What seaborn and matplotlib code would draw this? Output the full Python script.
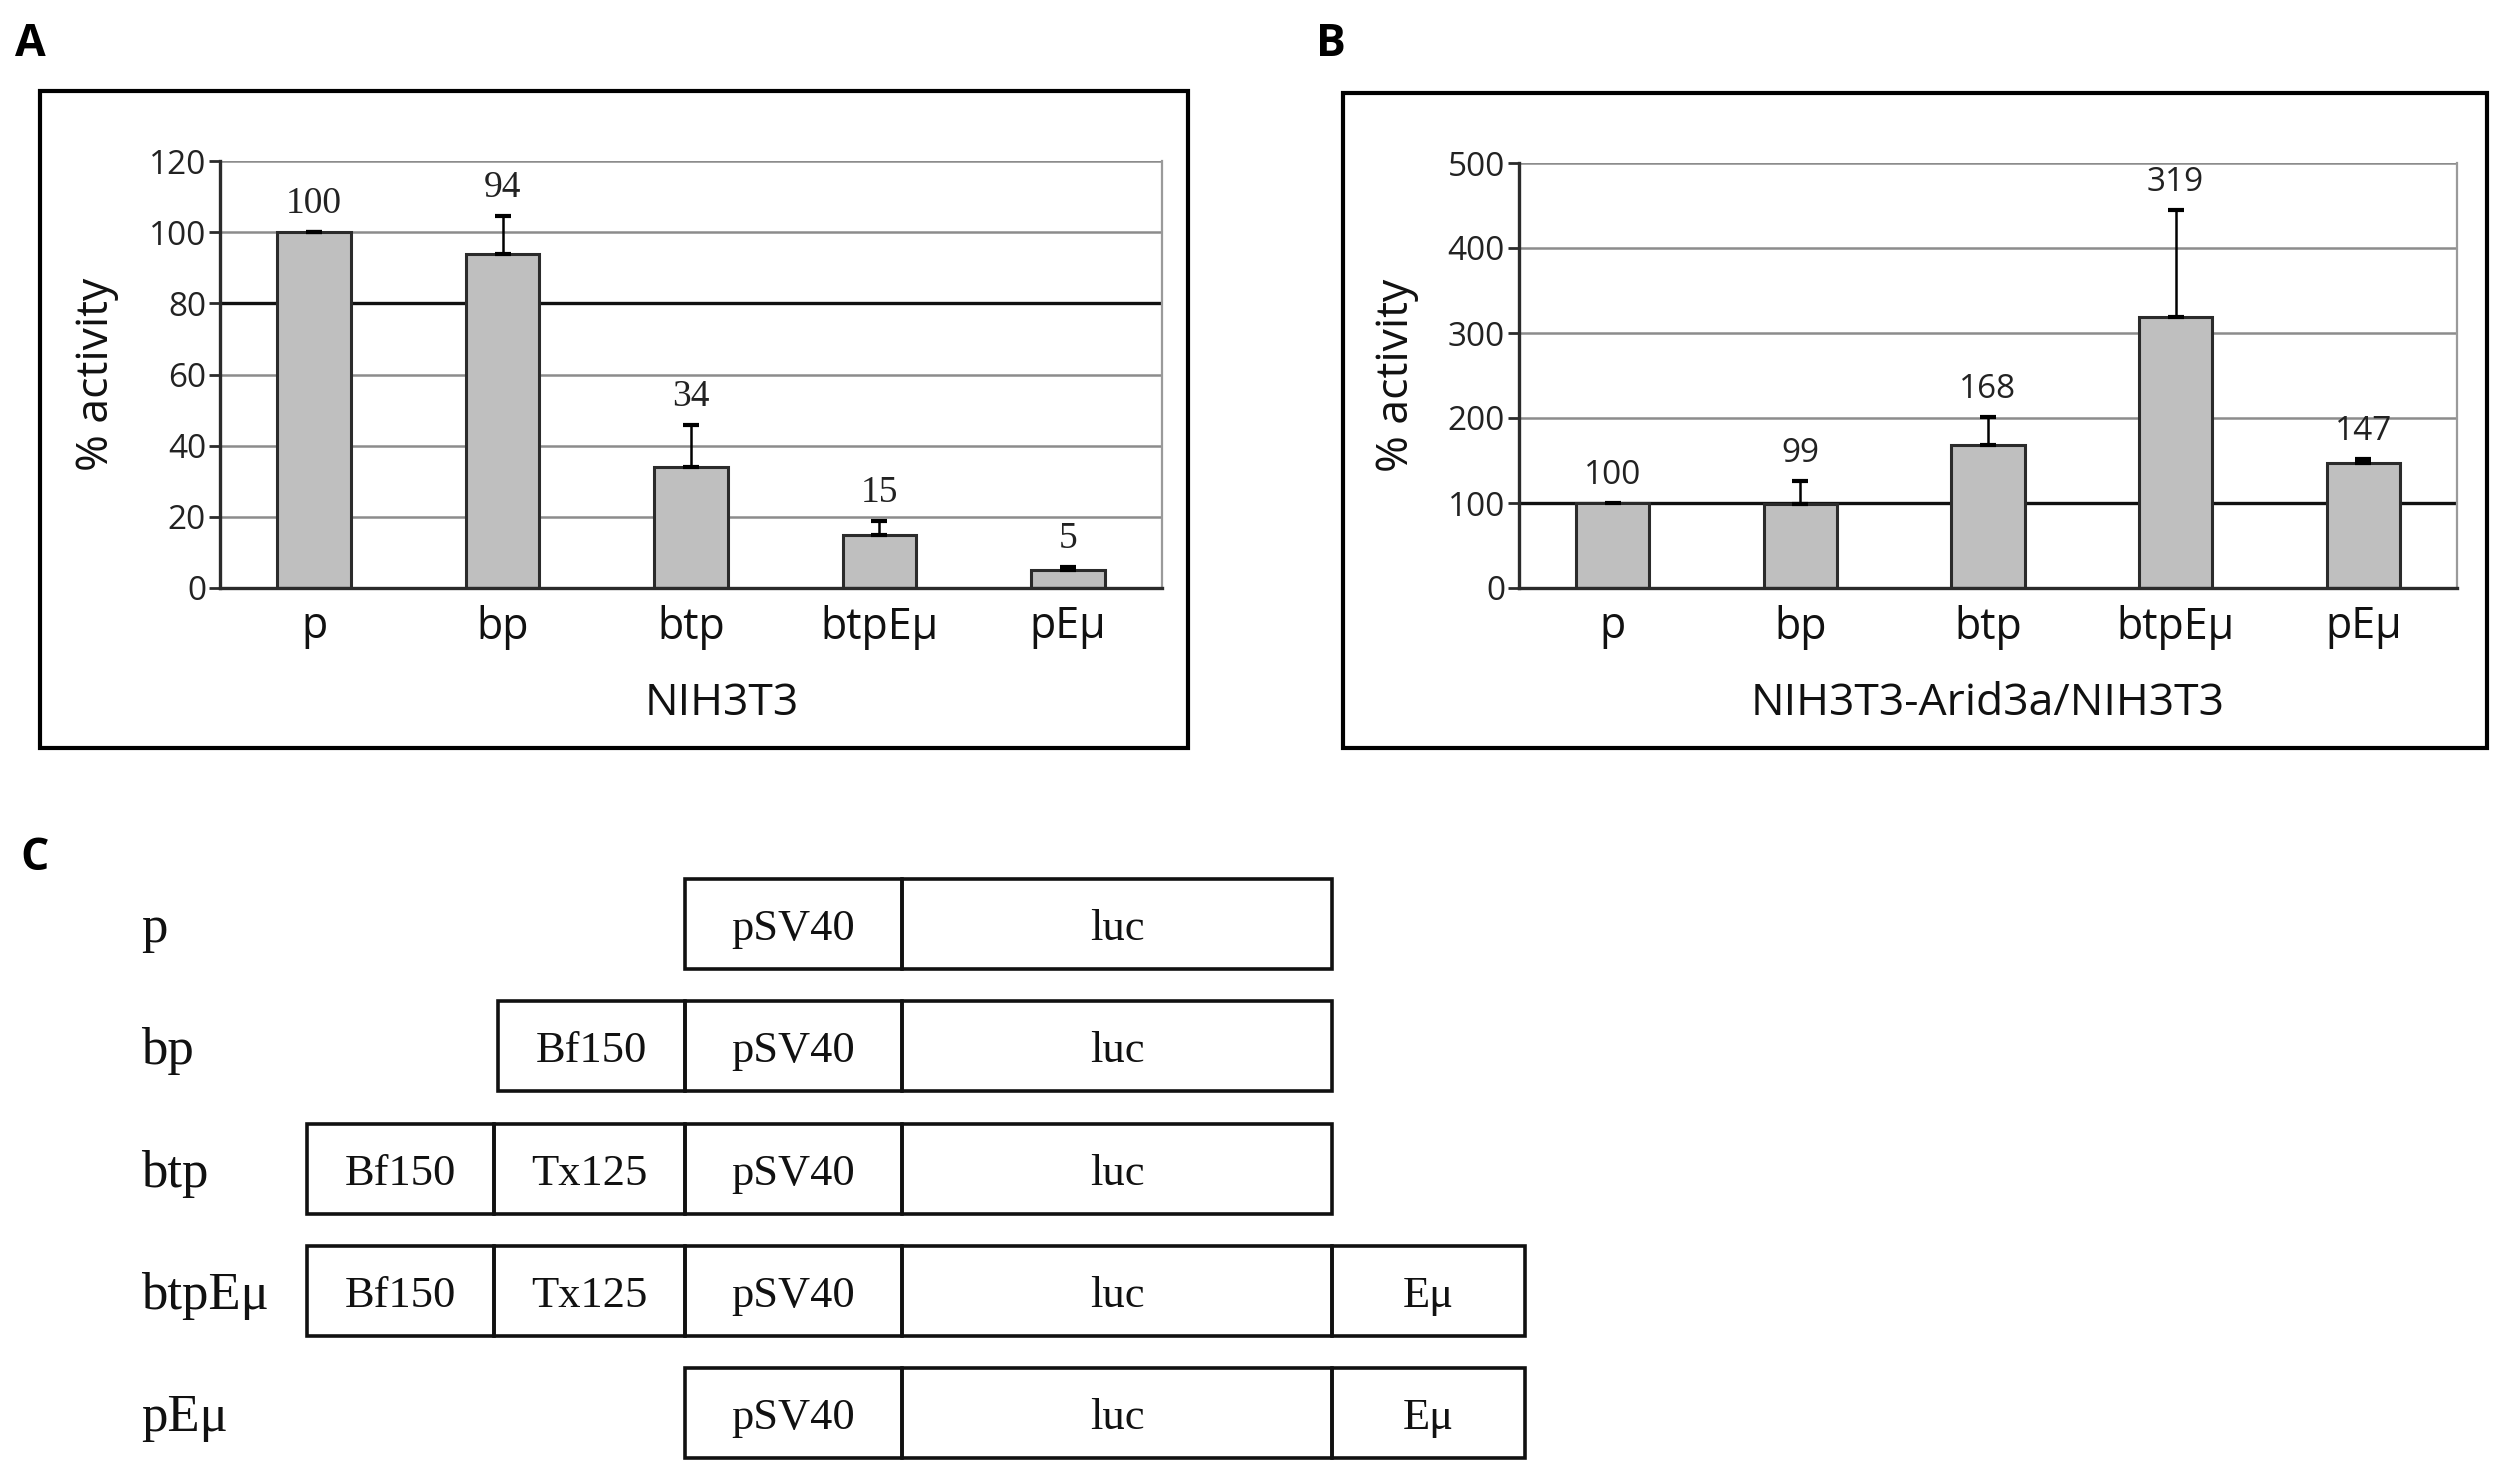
import numpy as np
import pandas as pd
import matplotlib
matplotlib.use("Agg")
import matplotlib.pyplot as plt
import seaborn as sns
from matplotlib.patches import Rectangle
from matplotlib.ticker import FixedLocator

# ---- data ----
constructs = ["p", "bp", "btp", "btpEμ", "pEμ"]

activity_a = [100, 94, 34, 15, 5]
err_a = [0, 10.5, 11.9, 3.7, 0.8]
yticks_a = [0, 20, 40, 60, 80, 100, 120]

activity_b = [100, 99, 168, 319, 147]
err_b = [np.nan, 27, 33, 126, 5]  # no error bar drawn for p
yticks_b = [0, 100, 200, 300, 400, 500]

# panel C: construct maps
elements = {
    "p": ["pSV40", "luc"],
    "bp": ["Bf150", "pSV40", "luc"],
    "btp": ["Bf150", "Tx125", "pSV40", "luc"],
    "btpEμ": ["Bf150", "Tx125", "pSV40", "luc", "Eμ"],
    "pEμ": ["pSV40", "luc", "Eμ"],
}
element_width = {"Bf150": 187, "Tx125": 191, "pSV40": 217, "luc": 430, "Eμ": 193}

BAR = "#bfbfbf"
EDGE = "#2b2b2b"
GRID = "#8c8c8c"

sns.set_theme(style="white")
plt.rcParams["font.family"] = ["Open Sans", "DejaVu Sans"]

W, H = 2507, 1481
fig = plt.figure(figsize=(W / 100, H / 100), dpi=100)


def fx(px):
    return px / W


def fy(py):
    return 1 - py / H


def draw_panel(ax, values, errors, yticks, xlabel, value_font, dark_value, xlabel_x):
    df = pd.DataFrame({"construct": constructs, "activity": values})
    ax.set_axisbelow(True)
    ax.yaxis.grid(True, color=GRID, lw=1.8)
    sns.barplot(data=df, x="construct", y="activity", color=BAR, saturation=1,
                edgecolor=EDGE, linewidth=2.2, width=0.39, errorbar=None, ax=ax)
    up = np.array(errors, dtype=float)
    ax.errorbar(range(len(values)), values, yerr=[np.zeros(len(up)), up],
                fmt="none", ecolor="black", elinewidth=1.8, capsize=6, capthick=3, zorder=4)
    for i, (v, e) in enumerate(zip(values, np.nan_to_num(up))):
        ax.annotate(str(v), (i, v + e), xytext=(0, 8), textcoords="offset points",
                    ha="center", va="bottom", color="#222222", **value_font)

    ax.set_xlim(-0.5, len(values) - 0.5)
    ax.set_ylim(0, yticks[-1])
    ax.set_yticks(yticks)
    ax.set_yticklabels([str(t) for t in yticks], fontsize=24, color="#222222")
    for t, gl in zip(ax.get_yticks(), ax.get_ygridlines()):
        if t == dark_value:
            gl.set_color("#111111")
            gl.set_linewidth(2.4)

    ax.xaxis.set_minor_locator(FixedLocator(np.arange(-0.5, len(values), 1)))
    ax.tick_params(axis="x", which="major", length=0, pad=12, labelsize=31, labelcolor="#111111")
    ax.tick_params(axis="x", which="minor", length=7, width=2, color=EDGE, direction="out")
    ax.tick_params(axis="y", which="major", length=8, width=2, color=EDGE, direction="out",
                   pad=2, left=True)

    ax.set_xlabel(xlabel, fontsize=32, color="#111111")
    ax.xaxis.set_label_coords(xlabel_x, -0.22)
    ax.set_ylabel("% activity", fontsize=32, color="#111111")
    ax.yaxis.set_label_coords(-0.107, 0.5)

    for side in ["left", "bottom"]:
        ax.spines[side].set_color(EDGE)
        ax.spines[side].set_linewidth(2.4)
    ax.spines["top"].set_visible(False)
    ax.spines["right"].set_color("#9a9a9a")
    ax.spines["right"].set_linewidth(1.6)


# panel A
ax_a = fig.add_axes([fx(220), fy(588), fx(1162 - 220), (588 - 161) / H])
draw_panel(ax_a, activity_a, err_a, yticks_a, "NIH3T3",
           {"fontsize": 27, "family": "Liberation Serif"}, 80, 0.533)

# panel B
ax_b = fig.add_axes([fx(1519), fy(588), fx(2457 - 1519), (588 - 163) / H])
draw_panel(ax_b, activity_b, err_b, yticks_b, "NIH3T3-Arid3a/NIH3T3",
           {"fontsize": 24}, 100, 0.5)

# panel frames
for x0, y0, x1, y1 in [(40, 91, 1188, 748), (1343, 93, 2487, 748)]:
    fig.add_artist(Rectangle((fx(x0), fy(y1)), fx(x1 - x0), (y1 - y0) / H,
                             transform=fig.transFigure, fill=False, ec="black", lw=3))

# panel C: construct diagrams, aligned on the start of pSV40
ax_c = fig.add_axes([0, 0, 1, (H - 820) / H])
ax_c.set_xlim(0, W)
ax_c.set_ylim(H, 820)
ax_c.axis("off")

promoter_start = 685
row_height = 90
for i, name in enumerate(constructs):
    parts = elements[name]
    k = parts.index("pSV40")
    x = promoter_start - sum(element_width[p] for p in parts[:k])
    yc = 924 + i * 122.3
    ax_c.text(141, yc + 5, name, ha="left", va="center", fontsize=38,
              family="Liberation Serif", color="#111111")
    for part in parts:
        w = element_width[part]
        ax_c.add_patch(Rectangle((x, yc - row_height / 2), w, row_height,
                                 fill=False, ec="#111111", lw=2.6))
        ax_c.text(x + w / 2, yc + 5, part, ha="center", va="center", fontsize=32,
                  family="Liberation Serif", color="#111111")
        x += w

# panel letters
for letter, px, py in [("A", 15, 45), ("B", 1316, 45), ("C", 20, 859)]:
    fig.text(fx(px), fy(py), letter, ha="left", va="center", fontsize=32,
             fontweight="bold", color="black")

fig.savefig("out.png", dpi=100, facecolor="white")
